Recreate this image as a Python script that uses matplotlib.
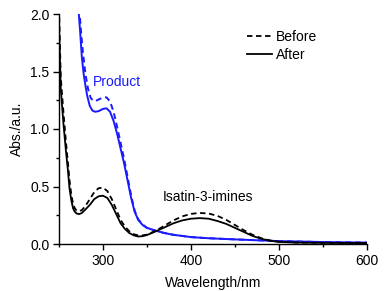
import matplotlib
matplotlib.use("Agg")
import matplotlib.pyplot as plt
from matplotlib.ticker import MultipleLocator

plt.rcParams['font.family'] = ['Liberation Sans', 'DejaVu Sans']

# Black curves (Isatin-3-imines)
wl_black = [250, 252, 255, 258, 260, 262, 264, 266, 268, 270, 273, 276, 280, 285, 290,
            295, 300, 305, 310, 315, 320, 325, 330, 335, 340, 345, 350, 360, 370, 380,
            390, 400, 410, 420, 430, 440, 450, 460, 470, 480, 490, 500, 520, 550, 600]
after_black = [1.90, 1.35, 1.05, 0.80, 0.65, 0.48, 0.38, 0.31, 0.28, 0.265, 0.26, 0.27, 0.30,
               0.34, 0.39, 0.415, 0.42, 0.40, 0.34, 0.26, 0.18, 0.13, 0.095, 0.075, 0.065,
               0.068, 0.078, 0.11, 0.145, 0.18, 0.205, 0.22, 0.225, 0.22, 0.20, 0.175, 0.14,
               0.105, 0.07, 0.045, 0.028, 0.018, 0.012, 0.010, 0.008]
before_black = [2.05, 1.45, 1.15, 0.88, 0.72, 0.55, 0.43, 0.35, 0.31, 0.29, 0.285, 0.295, 0.33,
                0.39, 0.45, 0.485, 0.49, 0.46, 0.39, 0.30, 0.21, 0.15, 0.11, 0.085, 0.075,
                0.075, 0.082, 0.115, 0.16, 0.205, 0.24, 0.262, 0.27, 0.265, 0.245, 0.21, 0.165,
                0.12, 0.08, 0.05, 0.03, 0.02, 0.013, 0.010, 0.008]

# Blue curves (Product)
wl_blue_after = [272, 274, 276, 278, 280, 282, 285, 288, 291, 295, 300, 304, 308, 312, 316,
                 320, 324, 328, 332, 336, 340, 345, 350, 360, 370, 380, 400, 420, 450, 500,
                 550, 600]
after_blue = [2.05, 1.85, 1.62, 1.48, 1.38, 1.29, 1.20, 1.16, 1.15, 1.155, 1.175, 1.18, 1.15,
              1.07, 0.96, 0.83, 0.70, 0.55, 0.40, 0.28, 0.21, 0.165, 0.14, 0.115, 0.095, 0.08,
              0.06, 0.05, 0.04, 0.025, 0.017, 0.012]
wl_blue_before = [273, 275, 277, 280, 283, 286, 289, 292, 296, 300, 304, 308, 312, 316, 320,
                  324, 328, 332, 336, 340, 345, 350, 360, 370, 380, 400, 420, 450, 500, 550, 600]
before_blue = [2.05, 1.85, 1.68, 1.48, 1.35, 1.27, 1.245, 1.245, 1.26, 1.275, 1.275, 1.24,
               1.15, 1.02, 0.88, 0.74, 0.58, 0.42, 0.29, 0.215, 0.17, 0.14, 0.115, 0.095, 0.08,
               0.06, 0.05, 0.04, 0.025, 0.017, 0.012]

legend_labels = ["Before", "After"]

fig = plt.figure(figsize=(3.9, 2.91), dpi=100)
ax = fig.add_axes([59/390, 1-244/291, (367-59)/390, (244-14)/291])

dash = (0, (3, 2))
blue = '#1a1aff'
ax.plot(wl_blue_before, before_blue, color=blue, lw=1.4, linestyle=dash)
ax.plot(wl_blue_after, after_blue, color=blue, lw=1.4)
lb, = ax.plot(wl_black, before_black, color='black', lw=1.3, linestyle=dash)
la, = ax.plot(wl_black, after_black, color='black', lw=1.3)

ax.set_xlim(250, 600)
ax.set_ylim(0, 2.0)
ax.xaxis.set_major_locator(MultipleLocator(100))
ax.xaxis.set_minor_locator(MultipleLocator(50))
ax.yaxis.set_major_locator(MultipleLocator(0.5))
ax.yaxis.set_minor_locator(MultipleLocator(0.25))
ax.yaxis.set_major_formatter(plt.FormatStrFormatter('%.1f'))
for s in ['top', 'right']:
    ax.spines[s].set_visible(False)
for s in ['left', 'bottom']:
    ax.spines[s].set_linewidth(1.0)
ax.tick_params(which='major', direction='out', length=4, width=1, labelsize=10, pad=3)
ax.tick_params(which='minor', direction='out', length=2.5, width=1)

ax.set_xlabel("Wavelength/nm", fontsize=10, labelpad=6)
ax.set_ylabel("Abs./a.u.", fontsize=10, labelpad=4)

fig.text(93/390, 1-82/291, "Product", color=blue, fontsize=10, ha='left', va='center')
fig.text(163/390, 1-197/291, "Isatin-3-imines", color='black', fontsize=10,
         ha='left', va='center')

leg = ax.legend([lb, la], legend_labels, frameon=False, fontsize=10,
                loc='upper left', bbox_to_anchor=(237/390, 1-20/291),
                bbox_transform=fig.transFigure, handlelength=1.8, handletextpad=0.3,
                labelspacing=0.3, borderpad=0.2)

fig.savefig("out.png", dpi=100)
